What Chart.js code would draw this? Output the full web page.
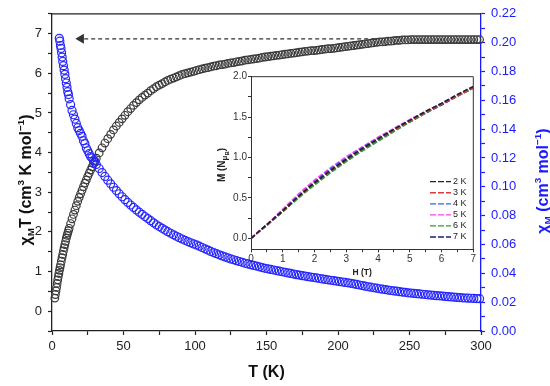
<!DOCTYPE html>
<html>
<head>
<meta charset="utf-8">
<script src="https://cdn.jsdelivr.net/npm/chart.js@4.4.1/dist/chart.umd.min.js"></script>
<style>
html,body{margin:0;padding:0;background:#fff}
#wrap{position:relative;width:550px;height:386px}
#main{position:absolute;left:0;top:0}
#inset{position:absolute;left:200px;top:66px}
</style>
</head>
<body>
<div id="wrap">
<canvas id="main" width="550" height="386"></canvas>
<canvas id="inset" width="285" height="215"></canvas>
</div>
<script>
const FONT = '"Liberation Sans", Arial, sans-serif'
const BLUE = '#1a1aff'

/* chi_M T (left axis), low temperature part */
let tLowChiT = [2, 2.4, 2.8, 3.2, 3.6, 4, 4.4, 4.8, 5.2, 5.6, 6, 6.5, 7, 7.5, 8, 8.5, 9, 9.5, 10, 10.5,
  11, 11.5, 12, 13, 14, 15, 16, 17, 18, 19, 20, 21, 22, 23, 24, 25, 26, 27, 28, 29, 30]
let chiTLow = [0.33, 0.42, 0.51, 0.60, 0.70, 0.79, 0.87, 0.95, 1.03, 1.10, 1.17, 1.26, 1.35, 1.43, 1.52, 1.60, 1.68, 1.76, 1.84, 1.91,
  1.97, 2.03, 2.09, 2.21, 2.33, 2.44, 2.55, 2.66, 2.77, 2.87, 2.96, 3.05, 3.14, 3.23, 3.31, 3.40, 3.48, 3.56, 3.64, 3.72, 3.79]

/* chi_M (right axis), low temperature part */
let tLowChi = [5.1, 5.5, 5.9, 6.3, 6.7, 7.1, 7.5, 8, 8.5, 9, 9.5, 10, 10.5, 11, 11.5, 12,
  13, 14, 15, 16, 17, 18, 19, 20, 21, 22, 23, 24, 25, 26, 27, 28, 29, 30]
let chiLow = [0.203, 0.201, 0.198, 0.196, 0.193, 0.190, 0.187, 0.184, 0.181, 0.178, 0.175, 0.172, 0.169, 0.166, 0.164, 0.161,
  0.157, 0.153, 0.150, 0.147, 0.144, 0.141, 0.139, 0.137, 0.135, 0.132, 0.130, 0.127, 0.125, 0.123, 0.121, 0.120, 0.118, 0.117]

/* both series above 30 K */
let tHigh = [31, 33, 35, 37, 39, 41, 43, 45, 47, 49,
  51, 53, 55, 57, 59, 61, 63, 65, 67, 69,
  71, 73, 75, 77, 79, 81, 83, 85, 87, 89,
  91, 93, 95, 97, 99, 101, 103, 105, 107, 109,
  111, 113, 115, 117, 119, 121, 123, 125, 127, 129,
  131, 133, 135, 137, 139, 141, 143, 145, 147, 149,
  151, 153, 155, 157, 159, 161, 163, 165, 167, 169,
  171, 173, 175, 177, 179, 181, 183, 185, 187, 189,
  191, 193, 195, 197, 199, 201, 203, 205, 207, 209,
  211, 213, 215, 217, 219, 221, 223, 225, 227, 229,
  231, 233, 235, 237, 239, 241, 243, 245, 247, 249,
  251, 253, 255, 257, 259, 261, 263, 265, 267, 269,
  271, 273, 275, 277, 279, 281, 283, 285, 287, 289,
  291, 293, 295, 297, 299]
let chiTHigh = [3.86, 3.99, 4.12, 4.24, 4.35, 4.46, 4.57, 4.67, 4.76, 4.85,
  4.94, 5.03, 5.11, 5.19, 5.26, 5.33, 5.39, 5.45, 5.50, 5.56,
  5.61, 5.66, 5.70, 5.74, 5.78, 5.82, 5.85, 5.88, 5.91, 5.94,
  5.97, 5.99, 6.01, 6.03, 6.05, 6.07, 6.09, 6.11, 6.13, 6.14,
  6.16, 6.18, 6.19, 6.21, 6.22, 6.23, 6.25, 6.26, 6.27, 6.29,
  6.30, 6.31, 6.33, 6.34, 6.35, 6.36, 6.37, 6.38, 6.40, 6.41,
  6.42, 6.43, 6.44, 6.45, 6.46, 6.47, 6.48, 6.49, 6.50, 6.51,
  6.52, 6.53, 6.54, 6.55, 6.56, 6.57, 6.57, 6.58, 6.59, 6.60,
  6.61, 6.62, 6.62, 6.63, 6.64, 6.65, 6.66, 6.67, 6.68, 6.69,
  6.70, 6.71, 6.72, 6.73, 6.74, 6.75, 6.76, 6.77, 6.78, 6.79,
  6.79, 6.80, 6.81, 6.81, 6.82, 6.83, 6.83, 6.84, 6.84, 6.84,
  6.85, 6.85, 6.85, 6.85, 6.85, 6.85, 6.85, 6.85, 6.85, 6.85,
  6.85, 6.85, 6.85, 6.85, 6.85, 6.85, 6.85, 6.85, 6.85, 6.85,
  6.85, 6.85, 6.85, 6.85, 6.85]
let chiHigh = [0.1155, 0.1127, 0.1099, 0.1072, 0.1046, 0.1021, 0.0997, 0.0974, 0.0952, 0.0931,
  0.0911, 0.0892, 0.0874, 0.0857, 0.0840, 0.0824, 0.0809, 0.0794, 0.0780, 0.0765,
  0.0750, 0.0737, 0.0724, 0.0712, 0.0700, 0.0689, 0.0678, 0.0667, 0.0657, 0.0647,
  0.0638, 0.0629, 0.0620, 0.0612, 0.0604, 0.0597, 0.0588, 0.0579, 0.0570, 0.0561,
  0.0552, 0.0544, 0.0536, 0.0528, 0.0521, 0.0514, 0.0507, 0.0500, 0.0494, 0.0488,
  0.0482, 0.0476, 0.0470, 0.0465, 0.0460, 0.0455, 0.0450, 0.0445, 0.0440, 0.0435,
  0.0431, 0.0427, 0.0423, 0.0419, 0.0415, 0.0411, 0.0407, 0.0403, 0.0399, 0.0395,
  0.0391, 0.0388, 0.0384, 0.0381, 0.0377, 0.0374, 0.0371, 0.0368, 0.0364, 0.0361,
  0.0358, 0.0355, 0.0352, 0.0349, 0.0346, 0.0343, 0.0340, 0.0337, 0.0334, 0.0331,
  0.0327, 0.0323, 0.0319, 0.0315, 0.0311, 0.0307, 0.0304, 0.0300, 0.0297, 0.0293,
  0.0290, 0.0287, 0.0284, 0.0281, 0.0278, 0.0276, 0.0273, 0.0270, 0.0268, 0.0265,
  0.0263, 0.0261, 0.0259, 0.0257, 0.0255, 0.0253, 0.0251, 0.0249, 0.0247, 0.0245,
  0.0244, 0.0242, 0.0240, 0.0238, 0.0236, 0.0235, 0.0233, 0.0232, 0.0230, 0.0229,
  0.0228, 0.0227, 0.0226, 0.0225, 0.0224]

/* dashed arrow, from plateau to the chi_M maximum */
let arrowT = [226, 20.3]
let arrowY = [6.87, 6.87]

/* inset: M vs H */
let fieldH = [0, 0.5, 1, 1.5, 2, 2.5, 3, 3.5, 4, 4.5, 5, 5.5, 6, 6.5, 7]
let insetMTicks = [0, 0.25, 0.5, 0.75, 1, 1.25, 1.5, 1.75, 2]
let mLabels = ['2 K', '3 K', '4 K', '5 K', '6 K', '7 K']
let m2K = [0, 0.17, 0.34, 0.52, 0.69, 0.84, 0.98, 1.11, 1.23, 1.35, 1.46, 1.57, 1.67, 1.78, 1.88]
let m3K = [0, 0.17, 0.34, 0.52, 0.69, 0.84, 0.98, 1.11, 1.23, 1.34, 1.45, 1.56, 1.66, 1.76, 1.86]
let m4K = [0, 0.17, 0.35, 0.53, 0.70, 0.86, 0.99, 1.12, 1.24, 1.35, 1.46, 1.57, 1.67, 1.77, 1.87]
let m5K = [0, 0.17, 0.36, 0.55, 0.72, 0.87, 1.01, 1.13, 1.25, 1.36, 1.47, 1.57, 1.67, 1.77, 1.87]
let m6K = [0, 0.16, 0.33, 0.50, 0.66, 0.81, 0.95, 1.08, 1.20, 1.32, 1.44, 1.55, 1.66, 1.76, 1.86]
let m7K = [0, 0.16, 0.33, 0.51, 0.67, 0.82, 0.96, 1.09, 1.21, 1.33, 1.44, 1.55, 1.65, 1.76, 1.86]

const insetColors = ['#222222', '#e03a3a', '#3f5cff', '#ff3cff', '#3a9a3a', '#1c1c7a']

function pts(xs, ys){
  return xs.map((x,i) => ({x:x, y:ys[i]}))
}

// text with sub/superscripts, parts = [text, scale, shift]
function richText(ctx, parts, x, y, rot, size, color){
  ctx.save()
  ctx.translate(x, y)
  ctx.rotate(rot)
  ctx.fillStyle = color
  ctx.textBaseline = 'alphabetic'
  ctx.textAlign = 'left'
  let w = 0
  let widths = parts.map(p => {
    ctx.font = 'bold ' + (size*p[1]) + 'px ' + FONT
    let m = ctx.measureText(p[0]).width
    w += m
    return m
  })
  let cx = -w/2
  parts.forEach((p,i) => {
    ctx.font = 'bold ' + (size*p[1]) + 'px ' + FONT
    ctx.fillText(p[0], cx, size*0.36 + size*p[2])
    cx += widths[i]
  })
  ctx.restore()
}

const mainDecor = {
  id: 'mainDecor',
  afterDraw(chart){
    let ctx = chart.ctx, a = chart.chartArea
    ctx.save()
    ctx.strokeStyle = '#222'
    ctx.lineWidth = 1.3
    ctx.beginPath()
    ctx.moveTo(a.left, a.top)
    ctx.lineTo(a.right, a.top)
    ctx.stroke()
    ctx.restore()

    richText(ctx, [['T (K)',1,0]], (a.left+a.right)/2, 371.5, 0, 16, '#111')
    richText(ctx, [['χ',1,0],['M',0.62,0.22],['T (cm',1,0],['3',0.62,-0.42],[' K mol',1,0],['−1',0.62,-0.42],[')',1,0]],
      25, 180, -Math.PI/2, 16, '#111')
    richText(ctx, [['χ',1,0],['M',0.62,0.22],[' (cm',1,0],['3',0.62,-0.42],[' mol',1,0],['−1',0.62,-0.42],[')',1,0]],
      542, 181, -Math.PI/2, 16, BLUE)
  }
}

function tickFont(size){ return {family: FONT, size: size} }

new Chart(document.getElementById('main'), {
  type: 'scatter',
  data: {
    datasets: [
      {
        label: 'χM',
        data: pts(tLowChi.concat(tHigh), chiLow.concat(chiHigh)),
        yAxisID: 'y2',
        pointRadius: 4,
        pointBorderWidth: 1.2,
        borderColor: '#2626ff',
        backgroundColor: 'rgba(0,0,0,0)',
        clip: false,
        order: 0
      },
      {
        label: 'χMT',
        data: pts(tLowChiT.concat(tHigh), chiTLow.concat(chiTHigh)),
        yAxisID: 'y',
        pointRadius: 3.8,
        pointBorderWidth: 1.2,
        borderColor: '#3a3a3a',
        backgroundColor: 'rgba(0,0,0,0)',
        clip: false,
        order: 1
      },
      {
        type: 'line',
        label: 'arrow',
        data: pts(arrowT, arrowY),
        yAxisID: 'y',
        borderColor: '#333',
        borderWidth: 1.2,
        borderDash: [4, 3],
        pointRadius: [0, 4.5],
        pointStyle: 'triangle',
        pointRotation: -90,
        pointBackgroundColor: '#333',
        pointBorderColor: '#333',
        fill: false,
        clip: false,
        order: 2
      }
    ]
  },
  options: {
    animation: false,
    responsive: false,
    layout: {padding: {top: 10, left: 0, right: 0, bottom: 0}},
    plugins: {legend: {display: false}, tooltip: {enabled: false}},
    scales: {
      x: {
        type: 'linear', position: 'bottom', min: 0, max: 300,
        ticks: {stepSize: 25, autoSkip: false, maxRotation: 0, padding: 4, color: '#222', font: tickFont(13),
          callback: v => (v % 50 === 0 ? String(v) : '')},
        grid: {drawOnChartArea: false, tickLength: 4, tickColor: '#222', tickWidth: 1.2},
        border: {color: '#222', width: 1.3},
        afterFit: s => { s.height = 55 }
      },
      y: {
        type: 'linear', position: 'left', min: -0.5, max: 7.5,
        ticks: {stepSize: 0.5, autoSkip: false, padding: 6, color: '#222', font: tickFont(13),
          callback: v => (Math.abs(v - Math.round(v)) < 1e-6 ? String(Math.round(v)) : '')},
        grid: {drawOnChartArea: false, tickLength: 4, tickColor: '#222', tickWidth: 1.2},
        border: {color: '#222', width: 1.3},
        afterFit: s => { s.width = 52 }
      },
      y2: {
        type: 'linear', position: 'right', min: 0, max: 0.22,
        ticks: {stepSize: 0.01, autoSkip: false, padding: 6, color: BLUE, font: tickFont(13),
          callback: v => { let k = Math.round(v*100); return k % 2 === 0 ? (k/100).toFixed(2) : '' }},
        grid: {drawOnChartArea: false, tickLength: 4, tickColor: BLUE, tickWidth: 1.2},
        border: {color: BLUE, width: 1.3},
        afterFit: s => { s.width = 69 }
      }
    }
  },
  plugins: [mainDecor]
})

/* inset */
const insetDecor = {
  id: 'insetDecor',
  afterDraw(chart){
    let ctx = chart.ctx, a = chart.chartArea
    ctx.save()
    ctx.strokeStyle = '#333'
    ctx.lineWidth = 1
    ctx.beginPath()
    ctx.moveTo(a.left, a.top)
    ctx.lineTo(a.right, a.top)
    ctx.lineTo(a.right, a.bottom)
    ctx.stroke()

    // legend
    ctx.font = '9px ' + FONT
    ctx.textBaseline = 'middle'
    ctx.fillStyle = '#222'
    mLabels.forEach((lab, i) => {
      let yy = 115.7 + i*11.06
      ctx.strokeStyle = insetColors[i]
      ctx.lineWidth = 1.3
      ctx.setLineDash([6, 2])
      ctx.beginPath()
      ctx.moveTo(230, yy)
      ctx.lineTo(251, yy)
      ctx.stroke()
      ctx.setLineDash([])
      ctx.fillText(lab, 253, yy)
    })
    ctx.restore()

    richText(ctx, [['H (T)',1,0]], (a.left+a.right)/2, 205.5, 0, 8.5, '#222')
    richText(ctx, [['M (N',1,0],['μ',0.8,0.25],['B',0.6,0.45],[')',1,0]], 21, 99, -Math.PI/2, 10, '#222')
  }
}

let insetSets = [m2K, m3K, m4K, m5K, m6K, m7K].map((m, i) => ({
  label: mLabels[i],
  data: pts(fieldH, m),
  borderColor: insetColors[i],
  borderWidth: 1.6,
  borderDash: [5, 2],
  pointRadius: 0,
  fill: false
}))

new Chart(document.getElementById('inset'), {
  type: 'line',
  data: {datasets: insetSets},
  options: {
    animation: false,
    responsive: false,
    layout: {padding: {top: 10.7, right: 11.7, left: 0, bottom: 0}},
    plugins: {legend: {display: false}, tooltip: {enabled: false}},
    scales: {
      x: {
        type: 'linear', min: 0, max: 7,
        ticks: {stepSize: 0.5, autoSkip: false, maxRotation: 0, padding: 1, color: '#333', font: tickFont(10),
          callback: v => (Math.abs(v - Math.round(v)) < 1e-6 ? String(Math.round(v)) : '')},
        grid: {drawOnChartArea: false, tickLength: 3, tickColor: '#333'},
        border: {color: '#333', width: 1},
        afterFit: s => { s.height = 31.7 }
      },
      y: {
        type: 'linear', min: -0.136, max: 2.0,
        afterBuildTicks: s => { s.ticks = insetMTicks.map(v => ({value: v})) },
        ticks: {autoSkip: false, padding: 1, color: '#333', font: tickFont(10),
          callback: v => (Math.abs(v*2 - Math.round(v*2)) < 1e-6 ? v.toFixed(1) : '')},
        grid: {drawOnChartArea: false, tickLength: 3, tickColor: '#333'},
        border: {color: '#333', width: 1},
        afterFit: s => { s.width = 51 }
      }
    }
  },
  plugins: [insetDecor]
})
</script>
</body>
</html>
